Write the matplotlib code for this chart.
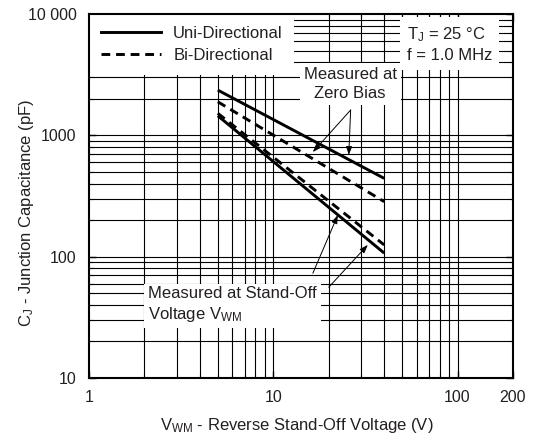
import numpy as np
import matplotlib.pyplot as plt
from matplotlib.lines import Line2D

plt.rcParams['font.family'] = ['Liberation Sans', 'DejaVu Sans']
plt.rcParams['mathtext.fontset'] = 'custom'
plt.rcParams['mathtext.rm'] = 'Liberation Sans'
plt.rcParams['mathtext.it'] = 'Liberation Sans'

# data (end points of the straight log-log lines)
v_range = [5, 40]
uni_zero = [2360, 442]
bi_zero = [1890, 284]
uni_standoff = [1450, 107]
bi_standoff = [1520, 125]

x_ticks = [1, 10, 100, 200]
x_ticklabels = ["1", "10", "100", "200"]
y_ticks = [10, 100, 1000, 10000]
y_ticklabels = ["10", "100", "1000", "10 000"]

txt = '#231f20'

fig = plt.figure(figsize=(5.37, 4.46), dpi=100)
ax = fig.add_axes([0.1657, 0.1525, 0.7896, 0.8161])
ax.set_xscale('log')
ax.set_yscale('log')
ax.set_xlim(1, 200)
ax.set_ylim(10, 10000)

# grid drawn by hand so the white text boxes can sit on top of it
xg = [m * 10 ** e for e in range(0, 3) for m in range(1, 10)] + [200]
yg = [m * 10 ** e for e in range(1, 4) for m in range(1, 10)]
for v in xg:
    if 1 < v < 200:
        ax.axvline(v, color='k', lw=0.8, zorder=1)
for v in yg:
    if 10 < v < 10000:
        ax.axhline(v, color='k', lw=0.8, zorder=1)

lw = 2.1
ax.plot(v_range, uni_zero, color='k', lw=lw, zorder=3, solid_capstyle='butt')
ax.plot(v_range, bi_zero, color='k', lw=lw, ls=(0, (3, 2)), zorder=3)
ax.plot(v_range, uni_standoff, color='k', lw=lw, zorder=3, solid_capstyle='butt')
ax.plot(v_range, bi_standoff, color='k', lw=lw, ls=(0, (3, 2)), zorder=3)

handles = [Line2D([], [], color='k', lw=lw),
           Line2D([], [], color='k', lw=lw, ls=(0, (3, 2)))]
leg = ax.legend(handles, ['Uni-Directional', 'Bi-Directional'], loc='upper left',
                fontsize=12, handlelength=3.6, handletextpad=0.75,
                frameon=True, fancybox=False, framealpha=1, edgecolor='none',
                facecolor='white', borderaxespad=0.0, borderpad=0.7,
                labelspacing=0.45, labelcolor=txt)
leg.set_zorder(4)

bbox = dict(facecolor='white', edgecolor='none', pad=3)
ax.text(0.75, 0.968, 'T$_\\mathregular{J}$ = 25 °C\nf = 1.0 MHz', transform=ax.transAxes,
        ha='left', va='top', fontsize=12, color=txt, linespacing=1.3,
        bbox=dict(facecolor='white', edgecolor='none', pad=5), zorder=4)

ax.text(0.616, 0.807, 'Measured at\nZero Bias', transform=ax.transAxes,
        ha='center', va='center', fontsize=12, color=txt, linespacing=1.3,
        bbox=bbox, zorder=4)
ax.text(0.139, 0.201, 'Measured at Stand-Off\nVoltage V$_\\mathregular{WM}$',
        transform=ax.transAxes, ha='left', va='center', fontsize=12, color=txt,
        linespacing=1.3, bbox=bbox, zorder=4)

arrow = dict(arrowstyle='-|>,head_length=0.5,head_width=0.18', color='k', lw=0.7,
             shrinkA=0, shrinkB=0)
ax.annotate('', xy=(16.4, 728), xytext=(26.3, 1617), arrowprops=arrow, zorder=5)
ax.annotate('', xy=(25.7, 689), xytext=(26.3, 1617), arrowprops=arrow, zorder=5)
ax.annotate('', xy=(22.4, 220), xytext=(16.4, 73), arrowprops=arrow, zorder=5)
ax.annotate('', xy=(32.6, 125), xytext=(20.0, 56), arrowprops=arrow, zorder=5)

ax.set_xticks(x_ticks)
ax.set_xticklabels(x_ticklabels)
ax.set_yticks(y_ticks)
ax.set_yticklabels(y_ticklabels)
ax.tick_params(which='both', direction='in', top=True, right=True, colors='k',
               labelcolor=txt, labelsize=11.5, zorder=6)
ax.tick_params(which='major', length=5, width=1.0)
ax.tick_params(axis='x', which='major', pad=9)
ax.tick_params(axis='y', which='major', pad=9)
ax.tick_params(which='minor', length=3, width=0.8)
ax.xaxis.set_minor_formatter(plt.NullFormatter())
ax.yaxis.set_minor_formatter(plt.NullFormatter())
for s in ax.spines.values():
    s.set_linewidth(1.5)
    s.set_zorder(6)

ax.set_xlabel('V$_\\mathregular{WM}$ - Reverse Stand-Off Voltage (V)', fontsize=12,
              color=txt)
ax.set_ylabel('C$_\\mathregular{J}$ - Junction Capacitance (pF)', fontsize=12,
              color=txt)
ax.xaxis.set_label_coords(0.49, -0.105)
ax.yaxis.set_label_coords(-0.125, 0.455)

fig.savefig('out.png', dpi=100)
